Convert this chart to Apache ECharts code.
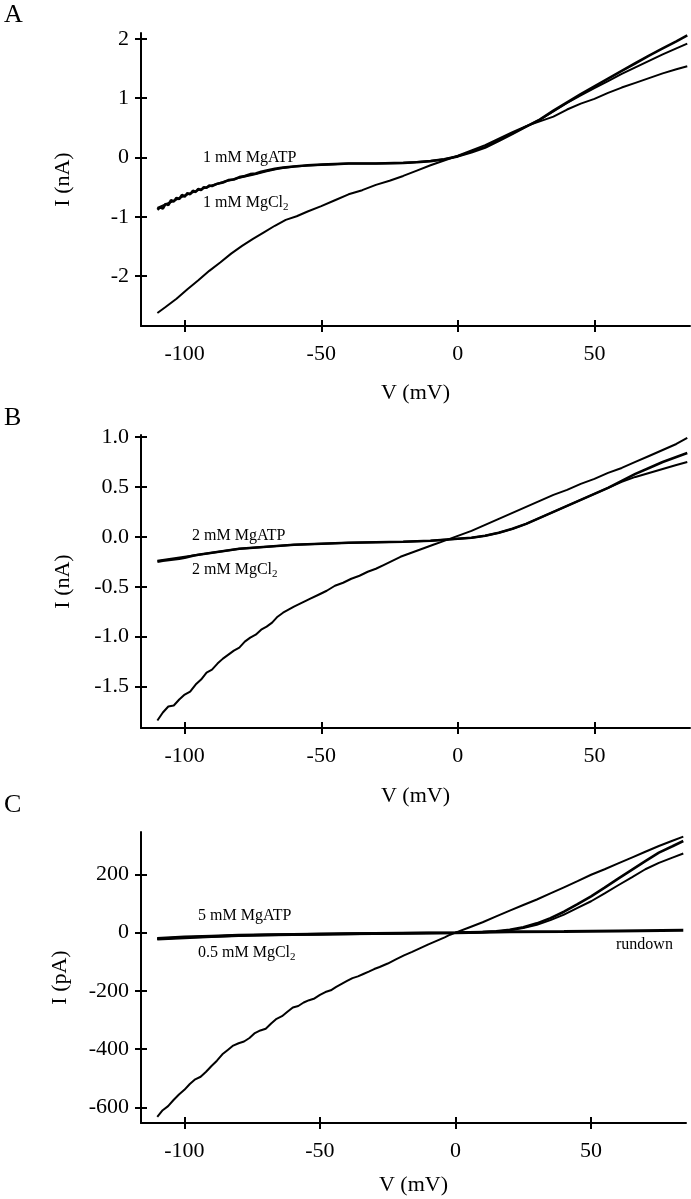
<!DOCTYPE html>
<html>
<head>
<meta charset="utf-8">
<script src="https://cdn.jsdelivr.net/npm/echarts@6/dist/echarts.min.js"></script>
<style>
html,body{margin:0;padding:0;background:#fff;}
#chart{width:691px;height:1199px;}
</style>
</head>
<body>
<div id="chart"></div>
<script>
// ---------- tick labels ----------
const V_TICKS = [-100, -50, 0, 50];
const A_YTICKS = [-2, -1, 0, 1, 2];
const B_YTICKS = [-1.5, -1.0, -0.5, 0.0, 0.5, 1.0];
const C_YTICKS = [-600, -400, -200, 0, 200];

// ---------- Panel A (nA) ----------
const A_cl_V = [-110,-107,-103,-99,-95,-91,-87,-83,-79,-75,-71,-67,-63,-59,-55,-50,-45,-40,-35,-30,-25,-20,-15,-10,-5,0,5,10,15,20,25,30,35,40,45,50,55,60,65,70,75,80,84];
const A_cl_I = [-2.62,-2.52,-2.38,-2.22,-2.07,-1.91,-1.77,-1.62,-1.49,-1.37,-1.26,-1.15,-1.05,-0.99,-0.91,-0.82,-0.72,-0.62,-0.55,-0.46,-0.39,-0.31,-0.22,-0.13,-0.05,0.03,0.12,0.21,0.32,0.43,0.53,0.61,0.69,0.81,0.91,0.99,1.09,1.18,1.26,1.34,1.42,1.49,1.54];
const A_atp1_V = [-110,-109,-108,-107,-106,-105,-104,-103,-102,-101,-100,-99,-98,-97,-96,-95,-94,-93,-92,-91,-90,-88,-86,-84,-82,-80,-78,-76,-74,-72,-70,-67,-64,-60,-55,-50,-45,-40,-30,-20,-15,-10,-5,0,5,10,15,20,25,30,35,40,45,50,55,60,65,70,75,80,84];
const A_atp1_I = [-0.88,-0.84,-0.86,-0.78,-0.80,-0.72,-0.74,-0.68,-0.70,-0.63,-0.66,-0.60,-0.62,-0.56,-0.58,-0.53,-0.55,-0.50,-0.51,-0.47,-0.48,-0.44,-0.42,-0.38,-0.37,-0.33,-0.31,-0.28,-0.27,-0.24,-0.22,-0.19,-0.17,-0.15,-0.13,-0.12,-0.11,-0.10,-0.10,-0.09,-0.08,-0.06,-0.03,0.02,0.09,0.17,0.28,0.40,0.52,0.64,0.79,0.93,1.07,1.20,1.33,1.46,1.59,1.72,1.84,1.96,2.06];
const A_atp2_V = [-110,-105,-100,-95,-90,-85,-80,-75,-70,-65,-60,-50,-40,-30,-20,-10,-5,0,10,20,25,30,35,40,45,50,55,60,65,70,75,80,84];
const A_atp2_I = [-0.85,-0.75,-0.64,-0.55,-0.47,-0.40,-0.34,-0.29,-0.23,-0.18,-0.15,-0.12,-0.10,-0.10,-0.09,-0.06,-0.03,0.02,0.18,0.41,0.52,0.64,0.78,0.92,1.05,1.17,1.29,1.41,1.52,1.63,1.74,1.84,1.92];

// ---------- Panel B (nA) ----------
const B_cl_V = [-110,-108,-106,-104,-102,-100,-98,-96,-94,-92,-90,-88,-86,-84,-82,-80,-78,-76,-74,-72,-70,-68,-66,-64,-62,-60,-57,-54,-51,-48,-45,-42,-39,-36,-33,-30,-27,-24,-21,-18,-15,-12,-9,-6,-3,0,5,10,15,20,25,30,35,40,45,50,55,60,65,70,75,80,84];
const B_cl_I = [-1.84,-1.76,-1.70,-1.69,-1.63,-1.58,-1.55,-1.48,-1.43,-1.36,-1.33,-1.27,-1.22,-1.18,-1.14,-1.11,-1.05,-1.01,-0.98,-0.93,-0.90,-0.86,-0.80,-0.76,-0.73,-0.70,-0.66,-0.62,-0.58,-0.54,-0.49,-0.46,-0.42,-0.39,-0.35,-0.32,-0.28,-0.24,-0.20,-0.17,-0.14,-0.11,-0.08,-0.05,-0.02,0.01,0.06,0.12,0.18,0.24,0.30,0.36,0.42,0.47,0.53,0.58,0.64,0.69,0.75,0.81,0.87,0.93,0.99];
const B_atp1_V = [-110,-108,-105,-102,-100,-97,-95,-90,-85,-80,-75,-70,-60,-50,-40,-30,-20,-10,-5,0,5,10,15,20,25,30,35,40,45,50,55,60,65,70,75,80,84];
const B_atp1_I = [-0.25,-0.24,-0.23,-0.22,-0.21,-0.19,-0.18,-0.16,-0.14,-0.12,-0.11,-0.10,-0.08,-0.07,-0.06,-0.055,-0.05,-0.04,-0.03,-0.02,-0.01,0.01,0.04,0.08,0.13,0.19,0.25,0.31,0.37,0.43,0.49,0.56,0.63,0.69,0.75,0.80,0.84];
const B_atp2_V = [-110,-100,-90,-80,-70,-60,-50,-40,-30,-20,-10,0,5,10,15,20,25,30,35,40,45,50,55,60,65,70,75,80,84];
const B_atp2_I = [-0.24,-0.20,-0.16,-0.12,-0.10,-0.08,-0.07,-0.06,-0.055,-0.05,-0.04,-0.02,-0.01,0.01,0.04,0.08,0.13,0.19,0.25,0.31,0.37,0.43,0.49,0.55,0.60,0.64,0.68,0.72,0.75];

// ---------- Panel C (pA) ----------
const C_cl_V = [-110,-108,-106,-104,-102,-100,-98,-96,-94,-92,-90,-88,-86,-84,-82,-80,-78,-76,-74,-72,-70,-68,-66,-64,-62,-60,-58,-56,-54,-52,-50,-48,-46,-44,-42,-40,-38,-36,-34,-32,-30,-28,-25,-22,-19,-16,-13,-10,-7,-4,-2,0,5,10,15,20,25,30,35,40,45,50,55,60,65,70,75,80,84];
const C_cl_I = [-633,-610,-596,-575,-556,-540,-520,-504,-495,-478,-458,-440,-418,-403,-388,-380,-374,-362,-345,-336,-330,-312,-296,-287,-272,-257,-252,-240,-232,-226,-214,-204,-198,-186,-176,-166,-156,-150,-142,-134,-125,-118,-106,-92,-78,-66,-53,-40,-28,-16,-7,0,18,36,56,76,95,114,135,156,177,199,218,238,258,278,298,316,330];
const C_atp1_V = [-110,-100,-90,-80,-70,-60,-50,-40,-30,-20,-10,0,5,10,15,20,25,30,35,40,45,50,55,60,65,70,75,80,84];
const C_atp1_I = [-22,-18,-14,-10,-8,-6,-5,-4,-3,-2,-1,0,1,2,5,10,19,32,50,72,98,125,155,186,216,246,275,297,315];
const C_atp2_V = [-110,-100,-90,-80,-70,-60,-50,-40,-30,-20,-10,0,5,10,15,20,25,30,35,40,45,50,55,60,65,70,75,80,84];
const C_atp2_I = [-20,-16,-12,-9,-7,-6,-5,-4,-3,-2,-1,0,1,2,4,8,16,27,43,62,85,108,135,163,190,218,240,258,272];
const C_run_V = [-110,-100,-90,-80,-60,-40,-20,0,20,40,60,84];
const C_run_I = [-20,-15,-12,-9,-6,-4,-2,0,3,4,6,8];

// ---------- build ----------
const pairs = (xs, ys) => xs.map((x, i) => [x, ys[i]]);
const FONT = 'Liberation Serif';
const BLACK = '#000';

const grids = [
  {left: 141, top: 33, width: 549, height: 293},
  {left: 141, top: 435, width: 549, height: 293},
  {left: 141, top: 832, width: 545, height: 291}
];
const yRanges = [[-2.84, 2.1], [-1.915, 1.02], [-654, 346]];
const yTicks = [A_YTICKS, B_YTICKS, C_YTICKS];
const yNames = ['I (nA)', 'I (nA)', 'I (pA)'];
const yFmt = [v => String(v), v => v.toFixed(1), v => String(v)];
const xNameGaps = [56, 57, 51];
const yNameGaps = [67, 67, 70];

const xAxes = [], yAxes = [];
for (let g = 0; g < 3; g++) {
  const lineStyle = {color: BLACK, width: 2};
  xAxes.push({
    type: 'value', gridIndex: g, min: -116, max: 85, position: 'bottom',
    axisLine: {show: true, onZero: false, lineStyle},
    axisTick: {show: true, length: 6, lineStyle, customValues: V_TICKS},
    axisLabel: {show: true, customValues: V_TICKS, margin: 17, fontFamily: FONT, fontSize: 22, color: BLACK},
    splitLine: {show: false},
    name: 'V (mV)', nameLocation: 'middle', nameGap: xNameGaps[g],
    nameTextStyle: {fontFamily: FONT, fontSize: 22, color: BLACK}
  });
  xAxes.push({
    type: 'value', gridIndex: g, min: -116, max: 85, position: 'bottom',
    axisLine: {show: false, onZero: false},
    axisTick: {show: true, inside: true, length: 6, lineStyle, customValues: V_TICKS},
    axisLabel: {show: false}, splitLine: {show: false}
  });
  yAxes.push({
    type: 'value', gridIndex: g, min: yRanges[g][0], max: yRanges[g][1], position: 'left',
    axisLine: {show: true, onZero: false, lineStyle},
    axisTick: {show: true, length: 6, lineStyle, customValues: yTicks[g]},
    axisLabel: {show: true, customValues: yTicks[g], margin: 12, fontFamily: FONT, fontSize: 22, color: BLACK, formatter: yFmt[g]},
    splitLine: {show: false},
    name: yNames[g], nameLocation: 'middle', nameGap: yNameGaps[g], nameRotate: 90,
    nameTextStyle: {fontFamily: FONT, fontSize: 22, color: BLACK}
  });
  yAxes.push({
    type: 'value', gridIndex: g, min: yRanges[g][0], max: yRanges[g][1], position: 'left',
    axisLine: {show: false, onZero: false},
    axisTick: {show: true, inside: true, length: 6, lineStyle, customValues: yTicks[g]},
    axisLabel: {show: false}, splitLine: {show: false}
  });
}

function trace(g, xs, ys, w) {
  return {
    type: 'line', xAxisIndex: 2 * g, yAxisIndex: 2 * g,
    data: pairs(xs, ys), showSymbol: false, symbol: 'none',
    lineStyle: {color: BLACK, width: w || 2}, silent: true, animation: false
  };
}

const series = [
  trace(0, A_cl_V, A_cl_I, 2),
  trace(0, A_atp1_V, A_atp1_I, 2.6),
  trace(0, A_atp2_V, A_atp2_I, 2),
  trace(1, B_cl_V, B_cl_I, 2),
  trace(1, B_atp1_V, B_atp1_I, 2.6),
  trace(1, B_atp2_V, B_atp2_I, 2),
  trace(2, C_cl_V, C_cl_I, 2),
  trace(2, C_atp1_V, C_atp1_I, 2.6),
  trace(2, C_atp2_V, C_atp2_I, 2),
  trace(2, C_run_V, C_run_I, 3)
];

const rich = {
  n: {fontFamily: FONT, fontSize: 16, fill: BLACK, color: BLACK},
  s: {fontFamily: FONT, fontSize: 11, fill: BLACK, color: BLACK, padding: [9, 0, 0, 0]}
};
function note(x, y, text) {
  return {type: 'text', left: x, top: y, silent: true,
    style: {text: text, rich: rich, fill: BLACK, font: '16px ' + FONT}};
}
function letter(x, y, t) {
  return {type: 'text', left: x, top: y, silent: true,
    style: {text: t, fill: BLACK, font: '26px ' + FONT}};
}

const graphic = [
  letter(4, 2, 'A'), letter(4, 405, 'B'), letter(4, 792, 'C'),
  note(203, 150, '{n|1 mM MgATP}'),
  note(203, 195, '{n|1 mM MgCl}{s|2}'),
  note(192, 528, '{n|2 mM MgATP}'),
  note(192, 562, '{n|2 mM MgCl}{s|2}'),
  note(198, 908, '{n|5 mM MgATP}'),
  note(198, 945, '{n|0.5 mM MgCl}{s|2}'),
  note(616, 937, '{n|rundown}')
];

const chart = echarts.init(document.getElementById('chart'), null, {renderer: 'canvas'});
chart.setOption({
  backgroundColor: '#fff',
  animation: false,
  grid: grids,
  xAxis: xAxes,
  yAxis: yAxes,
  series: series,
  graphic: graphic
});
</script>
</body>
</html>
